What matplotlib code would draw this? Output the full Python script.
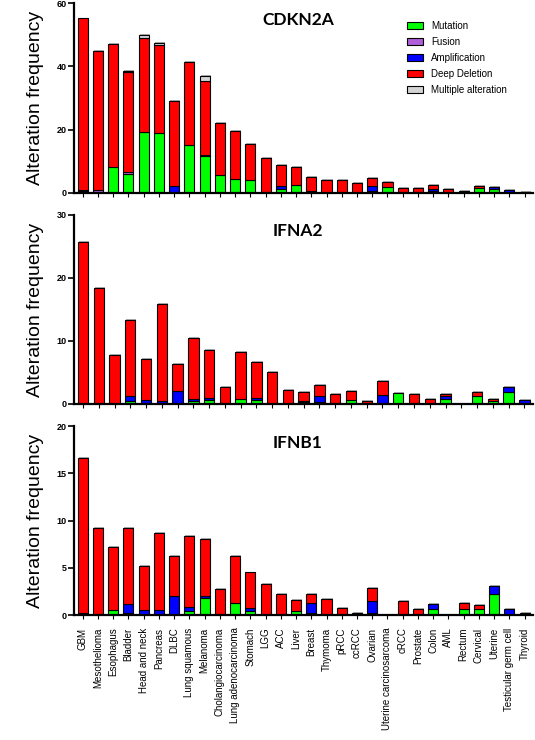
import matplotlib
matplotlib.use("Agg")
import matplotlib.pyplot as plt
import matplotlib.patheffects as pe
from matplotlib.patches import Patch
import numpy as np

plt.rcParams["font.family"] = ["Liberation Sans", "DejaVu Sans"]

# tumour types, in plotting order (x axis of the bottom panel)
categories = [
    "GBM", "Mesothelioma", "Esophagus", "Bladder", "Head and neck", "Pancreas",
    "DLBC", "Lung squamous", "Melanoma", "Cholangiocarcinoma",
    "Lung adenocarcinoma", "Stomach", "LGG", "ACC", "Liver", "Breast",
    "Thymoma", "pRCC", "ccRCC", "Ovarian", "Uterine carcinosarcoma", "cRCC",
    "Prostate", "Colon", "AML", "Rectum", "Cervical", "Uterine",
    "Testicular germ cell", "Thyroid",
]
# the IFNA2 panel has no Thyroid bar
categories_ifna2 = categories[:-1]

series = ["Mutation", "Fusion", "Amplification", "Deep Deletion", "Multiple alteration"]
colors = ["#00ff00", "#b05fd8", "#0000ff", "#ff0000", "#d4d4d4"]

# CDKN2A
cdkn2a_mut = [0.5, 0, 8.2, 5.9, 19.3, 18.8, 0, 15.0, 11.5, 5.5, 4.2, 3.9, 0.2, 1.05, 2.4,
              0, 0, 0, 0, 0.5, 1.7, 0, 0, 0.6, 0, 0, 1.6, 1.05, 0, 0]
cdkn2a_fus = [0, 1.0, 0, 0.7, 0, 0, 0, 0, 0, 0, 0, 0, 0, 0, 0,
              0, 0, 0, 0, 0, 0, 0, 0, 0, 0, 0, 0, 0, 0, 0]
cdkn2a_amp = [0.5, 0, 0, 0, 0, 0, 2.1, 0, 0.4, 0, 0, 0, 0, 1.15, 0,
              0.5, 0, 0, 0, 1.7, 0, 0, 0, 0.6, 0, 0, 0, 0.65, 0.75, 0]
cdkn2a_del = [54.2, 43.9, 39.0, 31.5, 29.7, 28.0, 27.0, 26.4, 23.5, 16.7, 15.2, 11.4, 10.9, 6.6, 5.9,
              4.4, 4.1, 4.0, 3.0, 2.5, 1.8, 1.6, 1.4, 1.1, 1.05, 0.6, 0.4, 0.2, 0, 0.2]
cdkn2a_multi = [0, 0, 0, 0.5, 0.9, 0.5, 0, 0, 1.6, 0, 0, 0, 0, 0, 0,
                0, 0, 0, 0, 0, 0, 0, 0, 0, 0, 0, 0, 0, 0, 0]

# IFNA2 (29 tumour types)
ifna2_mut = [0, 0, 0, 0.4, 0, 0, 0, 0.4, 0.6, 0, 0.85, 0.6, 0, 0, 0.25,
             0.37, 0, 0.7, 0, 0, 1.75, 0, 0, 0.85, 0, 1.2, 0.4, 1.85, 0]
ifna2_amp = [0, 0, 0, 0.8, 0.6, 0.5, 2.1, 0.45, 0.3, 0, 0, 0.3, 0, 0, 0.3,
             0.9, 0, 0, 0, 1.43, 0, 0, 0, 0.45, 0, 0, 0, 0.8, 0.7]
ifna2_del = [25.7, 18.4, 7.7, 12.2, 6.5, 15.3, 4.2, 9.65, 7.6, 2.75, 7.45, 5.7, 5.0, 2.2, 1.3,
             1.75, 1.65, 1.4, 0.4, 2.17, 0, 1.6, 0.8, 0.35, 0, 0.75, 0.35, 0, 0]

# IFNB1
ifnb1_mut = [0.18, 0, 0.5, 0.18, 0, 0, 0, 0.4, 1.75, 0, 1.25, 0.4, 0, 0, 0.45,
             0.25, 0, 0, 0, 0.2, 0, 0, 0, 0.63, 0, 0.6, 0.6, 2.2, 0, 0.2]
ifnb1_amp = [0, 0, 0, 1.0, 0.53, 0.5, 2.05, 0.4, 0.25, 0, 0, 0.3, 0, 0, 0,
             1.0, 0, 0, 0, 1.3, 0, 0, 0, 0.53, 0, 0, 0, 0.85, 0.65, 0]
ifnb1_del = [16.4, 9.2, 6.65, 8.0, 4.65, 8.2, 4.2, 7.6, 6.05, 2.75, 4.95, 3.8, 3.3, 2.2, 1.15,
             0.95, 1.65, 0.7, 0.2, 1.4, 0, 1.5, 0.6, 0, 0, 0.67, 0.42, 0, 0, 0]


def stacked_panel(ax, cats, layers, title, ymax, ystep, show_labels=False):
    x = np.arange(len(cats))
    bottom = np.zeros(len(cats))
    shadow = [pe.SimplePatchShadow(offset=(0.7, 0.7), shadow_rgbFace="0.6", alpha=0.8),
              pe.Normal()]
    for vals, color, name in zip(layers, colors, series):
        vals = np.asarray(vals, dtype=float)
        bars = ax.bar(x, vals, 0.66, bottom=bottom, color=color, edgecolor="black",
                      linewidth=0.8, label=name)
        for b, v in zip(bars, vals):
            if v > 0:
                b.set_path_effects(shadow)
            else:
                b.set_visible(False)
        bottom += vals

    ax.set_xlim(-0.57, len(cats) - 1 + 0.55)
    ax.set_ylim(0, ymax)
    ax.set_yticks(np.arange(0, ymax + 0.1, ystep))
    ax.set_xticks(x)
    if show_labels:
        ax.set_xticklabels(cats, rotation=90, fontsize=7)
    else:
        ax.set_xticklabels([])
    for s in ["top", "right"]:
        ax.spines[s].set_visible(False)
    for s in ["left", "bottom"]:
        ax.spines[s].set_linewidth(1.6)
    ax.tick_params(axis="y", direction="out", length=4, width=1.2, labelsize=6.5, pad=1.5)
    ax.tick_params(axis="x", direction="out", length=3, width=0.8, pad=6)
    for lbl in ax.get_yticklabels():
        lbl.set_fontweight("bold")
    ax.set_ylabel("Alteration frequency", fontsize=14)
    ax.yaxis.set_label_coords(-0.066, 0.5)
    ax.text(0.488, 0.955, title, transform=ax.transAxes, ha="center", va="top",
            fontsize=12.5, fontweight="bold", family=["Lato", "DejaVu Sans"])


fig = plt.figure(figsize=(5.35, 7.4), dpi=100)
left, width = 0.1383, 0.858
ax1 = fig.add_axes([left, 0.7396, width, 0.2559])
ax2 = fig.add_axes([left, 0.4541, width, 0.2554])
ax3 = fig.add_axes([left, 0.1689, width, 0.2554])

stacked_panel(ax1, categories,
              [cdkn2a_mut, cdkn2a_fus, cdkn2a_amp, cdkn2a_del, cdkn2a_multi],
              "CDKN2A", 60, 20)
zero29 = [0] * len(categories_ifna2)
stacked_panel(ax2, categories_ifna2,
              [ifna2_mut, zero29, ifna2_amp, ifna2_del, zero29],
              "IFNA2", 30, 10)
zero30 = [0] * len(categories)
stacked_panel(ax3, categories,
              [ifnb1_mut, zero30, ifnb1_amp, ifnb1_del, zero30],
              "IFNB1", 20, 5, show_labels=True)

# legend uses proxy patches so every series shows, even those with no visible bar
handles = [Patch(facecolor=c, edgecolor="black", linewidth=0.8, label=n)
           for c, n in zip(colors, series)]
ax1.legend(handles=handles, loc="upper left", bbox_to_anchor=(0.725, 0.908), frameon=False,
           fontsize=7, handlelength=1.65, handleheight=0.85, handletextpad=0.85,
           labelspacing=0.62, borderaxespad=0, borderpad=0)

fig.savefig("out.png", dpi=100)
